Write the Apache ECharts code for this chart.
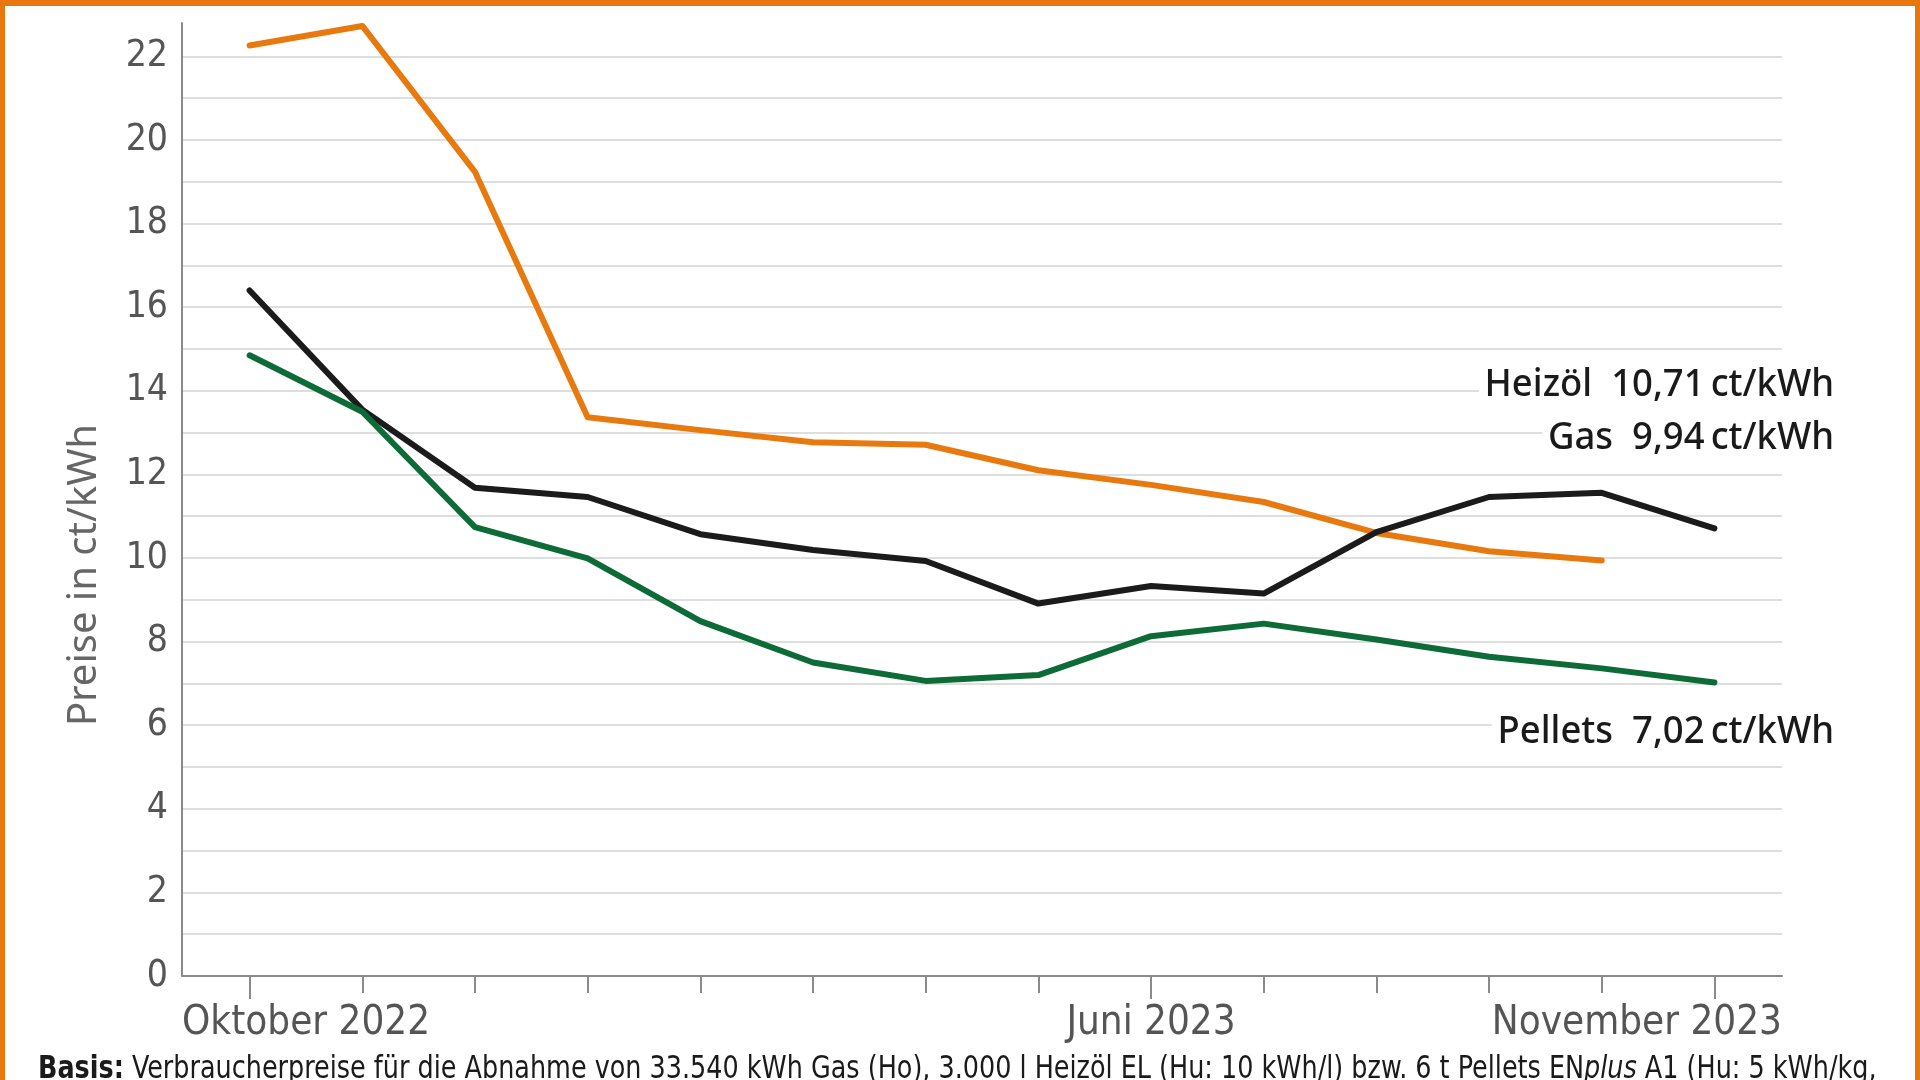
<!DOCTYPE html>
<html>
<head>
<meta charset="utf-8">
<script src="https://cdn.jsdelivr.net/npm/echarts@6/dist/echarts.min.js"></script>
<style>
    html, body { margin: 0; padding: 0; background: #fff; }
    #chart {
        width: 1920px;
        height: 1080px;
        box-sizing: border-box;
        border-top: 6px solid #e8770f;
        border-left: 5px solid #e8770f;
        border-right: 5px solid #e8770f;
    }
</style>
</head>
<body>
<div id="chart"></div>
<script>
// Monate Okt 2022 .. Nov 2023
const months = ["Okt 22", "Nov 22", "Dez 22", "Jan 23", "Feb 23", "Mär 23", "Apr 23",
    "Mai 23", "Jun 23", "Jul 23", "Aug 23", "Sep 23", "Okt 23", "Nov 23"];

// Preise in ct/kWh
const gas = [22.26, 22.73, 19.24, 13.37, 13.06, 12.77, 12.71, 12.10, 11.75, 11.34, 10.60, 10.16, 9.94, null];
const heizoel = [16.40, 13.55, 11.68, 11.46, 10.57, 10.19, 9.93, 8.91, 9.33, 9.15, 10.62, 11.46, 11.56, 10.71];
const pellets = [14.85, 13.50, 10.74, 9.99, 8.49, 7.50, 7.06, 7.20, 8.13, 8.43, 8.05, 7.64, 7.36, 7.02];

// Beschriftung der x-Achse
const xTickLabels = ["Oktober 2022", "Juni 2023", "November 2023"];
const xTickIdx = [0, 8, 13];

const yTicks = [0, 2, 4, 6, 8, 10, 12, 14, 16, 18, 20, 22];

const endLabels = [
    { name: "Heizöl", value: "10,71" },
    { name: "Gas", value: "9,94" },
    { name: "Pellets", value: "7,02" },
];

const X_MIN = -0.6;
const X_MAX = 13.6;

const chart = echarts.init(document.getElementById("chart"), null, { renderer: "canvas" });

const toPairs = (arr) => arr.map((v, i) => [i, v]);

const narrow = "'Liberation Sans Narrow', 'DejaVu Sans Condensed', sans-serif";
const sans = "'Noto Sans', 'Open Sans', sans-serif";

function xLabel(v) {
    if (v <= X_MIN + 0.01) return xTickLabels[0];
    if (v >= X_MAX - 0.01) return xTickLabels[2];
    const k = xTickIdx.indexOf(Math.round(v));
    return k >= 0 ? xTickLabels[k] : "";
}

const lineStyleBase = { width: 6, cap: "round", join: "round" };

const option = {
    animation: false,
    backgroundColor: "#fff",
    grid: {
        left: 177,
        right: 133,
        top: 17,
        bottom: 104,
        outerBoundsMode: "none",
        containLabel: false,
    },
    xAxis: [
        {
            type: "value",
            min: X_MIN,
            max: X_MAX,
            axisLine: { show: true, onZero: false, lineStyle: { color: "#8a8a8a", width: 2 } },
            axisTick: {
                show: true,
                customValues: months.map((m, i) => i),
                length: 17,
                lineStyle: { color: "#8a8a8a", width: 2 },
            },
            axisLabel: {
                show: true,
                customValues: [X_MIN, xTickIdx[1], X_MAX],
                formatter: xLabel,
                alignMinLabel: "left",
                alignMaxLabel: "right",
                color: "#555",
                fontSize: 40,
                fontFamily: narrow,
                margin: 28,
            },
            splitLine: { show: false },
        },
        {
            type: "value",
            min: X_MIN,
            max: X_MAX,
            position: "bottom",
            axisLine: { show: false, onZero: false },
            axisTick: {
                show: true,
                customValues: xTickIdx,
                length: 23,
                lineStyle: { color: "#8a8a8a", width: 2 },
            },
            axisLabel: { show: false },
            splitLine: { show: false },
        },
    ],
    yAxis: {
        type: "value",
        min: 0,
        max: 22.8,
        interval: 1,
        axisLine: { show: true, onZero: false, lineStyle: { color: "#8a8a8a", width: 2 } },
        axisTick: { show: false },
        axisLabel: {
            color: "#555",
            fontSize: 37,
            fontFamily: narrow,
            margin: 14,
            showMaxLabel: false,
            formatter: (v) => (yTicks.indexOf(v) >= 0 ? String(v) : ""),
        },
        splitLine: {
            show: true,
            showMinLine: false,
            showMaxLine: false,
            lineStyle: { color: "#dedede", width: 2 },
        },
    },
    series: [
        {
            name: "Gas",
            type: "line",
            data: toPairs(gas),
            symbol: "none",
            connectNulls: false,
            lineStyle: Object.assign({ color: "#e8790f" }, lineStyleBase),
            z: 3,
        },
        {
            name: "Heizöl",
            type: "line",
            data: toPairs(heizoel),
            symbol: "none",
            lineStyle: Object.assign({ color: "#1b1b1b" }, lineStyleBase),
            z: 4,
        },
        {
            name: "Pellets",
            type: "line",
            data: toPairs(pellets),
            symbol: "none",
            lineStyle: Object.assign({ color: "#0c6b36" }, lineStyleBase),
            z: 5,
        },
    ],
    graphic: [
        {
            type: "text",
            x: 80,
            y: 569,
            rotation: Math.PI / 2,
            style: {
                text: "Preise in ct/kWh",
                fill: "#666",
                font: "40px " + sans,
                align: "center",
                verticalAlign: "middle",
            },
        },
        ...[379, 432, 726].map((y, i) => ({
            type: "text",
            x: 1833,
            y: y,
            z: 10,
            scaleX: 0.96,
            style: {
                text: endLabels[i].name + "  " + endLabels[i].value + "\u2009ct/kWh",
                fill: "#1a1a1a",
                font: "500 38px " + sans,
                align: "right",
                verticalAlign: "middle",
                backgroundColor: "#fff",
                padding: [2, 4, 2, 6],
            },
        })),
        {
            type: "text",
            x: 33,
            y: 1064,
            scaleX: 0.885,
            style: {
                text: "{b|Basis:} Verbraucherpreise für die Abnahme von 33.540 kWh Gas (Ho), 3.000 l Heizöl EL (Hu: 10 kWh/l) bzw. 6 t Pellets EN{i|plus} A1 (Hu: 5 kWh/kg,",
                fill: "#1a1a1a",
                font: "32px " + narrow,
                align: "left",
                verticalAlign: "middle",
                rich: {
                    b: { fontWeight: "bold", fontSize: 32, fontFamily: narrow, fill: "#1a1a1a" },
                    i: { fontStyle: "italic", fontSize: 32, fontFamily: narrow, fill: "#1a1a1a" },
                },
            },
        },
    ],
};

chart.setOption(option);
</script>
</body>
</html>
